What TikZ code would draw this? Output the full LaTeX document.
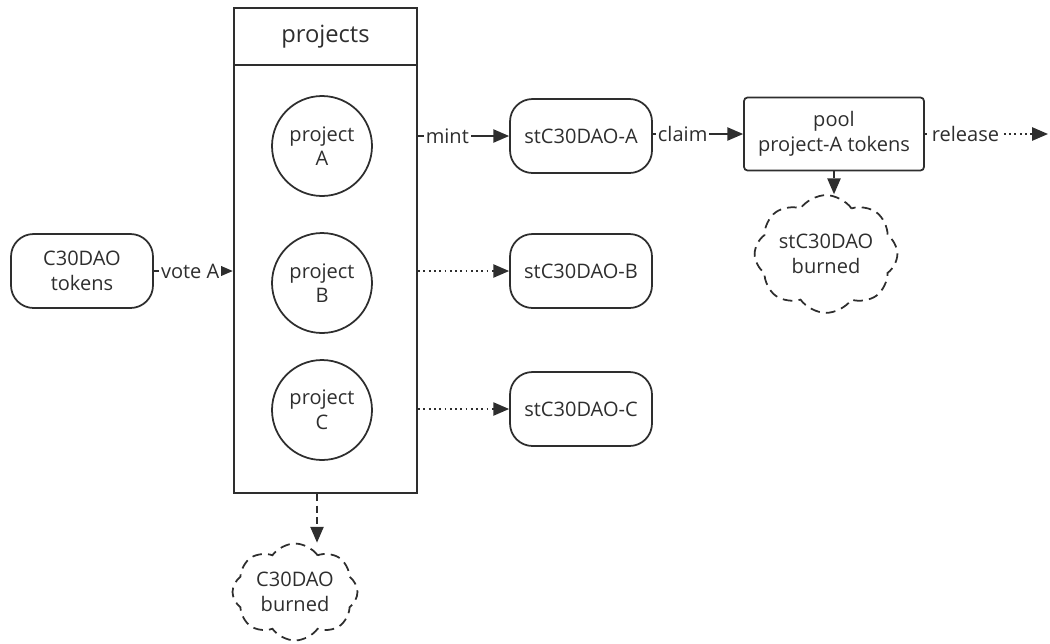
\documentclass[tikz,border=0pt]{standalone}
\usepackage{fontspec}
\setmainfont{Open Sans}
\usetikzlibrary{arrows.meta,shapes.symbols,positioning}
\definecolor{ink}{HTML}{2E2E2E}
\tikzset{
  pill/.style={draw=ink,rounded corners=0.45cm,minimum width=2.84cm,minimum height=1.48cm,align=center,line width=1pt},
  proj/.style={draw=ink,circle,minimum size=2cm,align=center,line width=1pt},
  burn/.style={draw=ink,cloud,cloud puffs=8,cloud puff arc=110,aspect=1.35,minimum width=2.5cm,minimum height=1.75cm,inner sep=0pt,align=center,line width=1pt,dash pattern=on 5.5pt off 3.5pt},
  lbl/.style={fill=white,inner sep=1pt,text=ink},
  flow/.style={->,draw=ink,line width=1pt},
  soft/.style={flow,dotted},
  drop/.style={flow,dash pattern=on 4pt off 2.5pt}
}
\begin{document}
\begin{tikzpicture}[x=0.02cm,y=-0.02cm,>={Triangle[length=9pt,width=7.5pt]},text=ink,font=\fontsize{11.4}{14}\selectfont]
    \useasboundingbox (0,0) rectangle (1050,643);
    \node[draw=ink,line width=1.4pt,minimum width=3.66cm,minimum height=1.14cm,font=\fontsize{13.5}{16}\selectfont] (hdr) at (325.5,36.5) {projects};
    \node[draw=ink,line width=1.4pt,minimum width=3.66cm,minimum height=8.56cm,below=-1.4pt of hdr] (prj) {};
    \node[proj] (pA) at (322,146) {project\\A};
    \node[proj] (pB) at (322,283) {project\\B};
    \node[proj] (pC) at (322,410) {project\\C};
    \node[pill] (toks) at (82,271) {C30DAO\\tokens};
    \node[pill] (stA) at (581,136) {stC30DAO-A};
    \node[pill] (stB) at (581,271) {stC30DAO-B};
    \node[pill] (stC) at (581,409) {stC30DAO-C};
    \node[draw=ink,rounded corners=2pt,minimum width=3.6cm,minimum height=1.46cm,align=center,line width=1pt] (pool) at (834,134) {pool\\project-A tokens};
    \node[burn] (burnS) at (826,254) {stC30DAO\\burned};
    \node[burn] (burnC) at (295,592) {C30DAO\\burned};
    \coordinate (out) at (1048,134);
    \draw[flow] (toks) -- node[lbl,pos=0.46]{vote A} (toks -| prj.west);
    \draw[flow] (stA -| prj.east) -- node[lbl,pos=0.32]{mint} (stA);
    \draw[soft] (stB -| prj.east) -- (stB);
    \draw[soft] (stC -| prj.east) -- (stC);
    \draw[flow] (stA.east |- pool) -- node[lbl,pos=0.33]{claim} (pool);
    \draw[soft] (pool) -- node[lbl,pos=0.33]{release} (out);
    \draw[drop] (pool) -- (pool |- burnS.north);
    \draw[drop] ([xshift=-0.17cm]prj.south) -- ([xshift=-0.17cm]prj.south |- burnC.north);
\end{tikzpicture}
\end{document}
